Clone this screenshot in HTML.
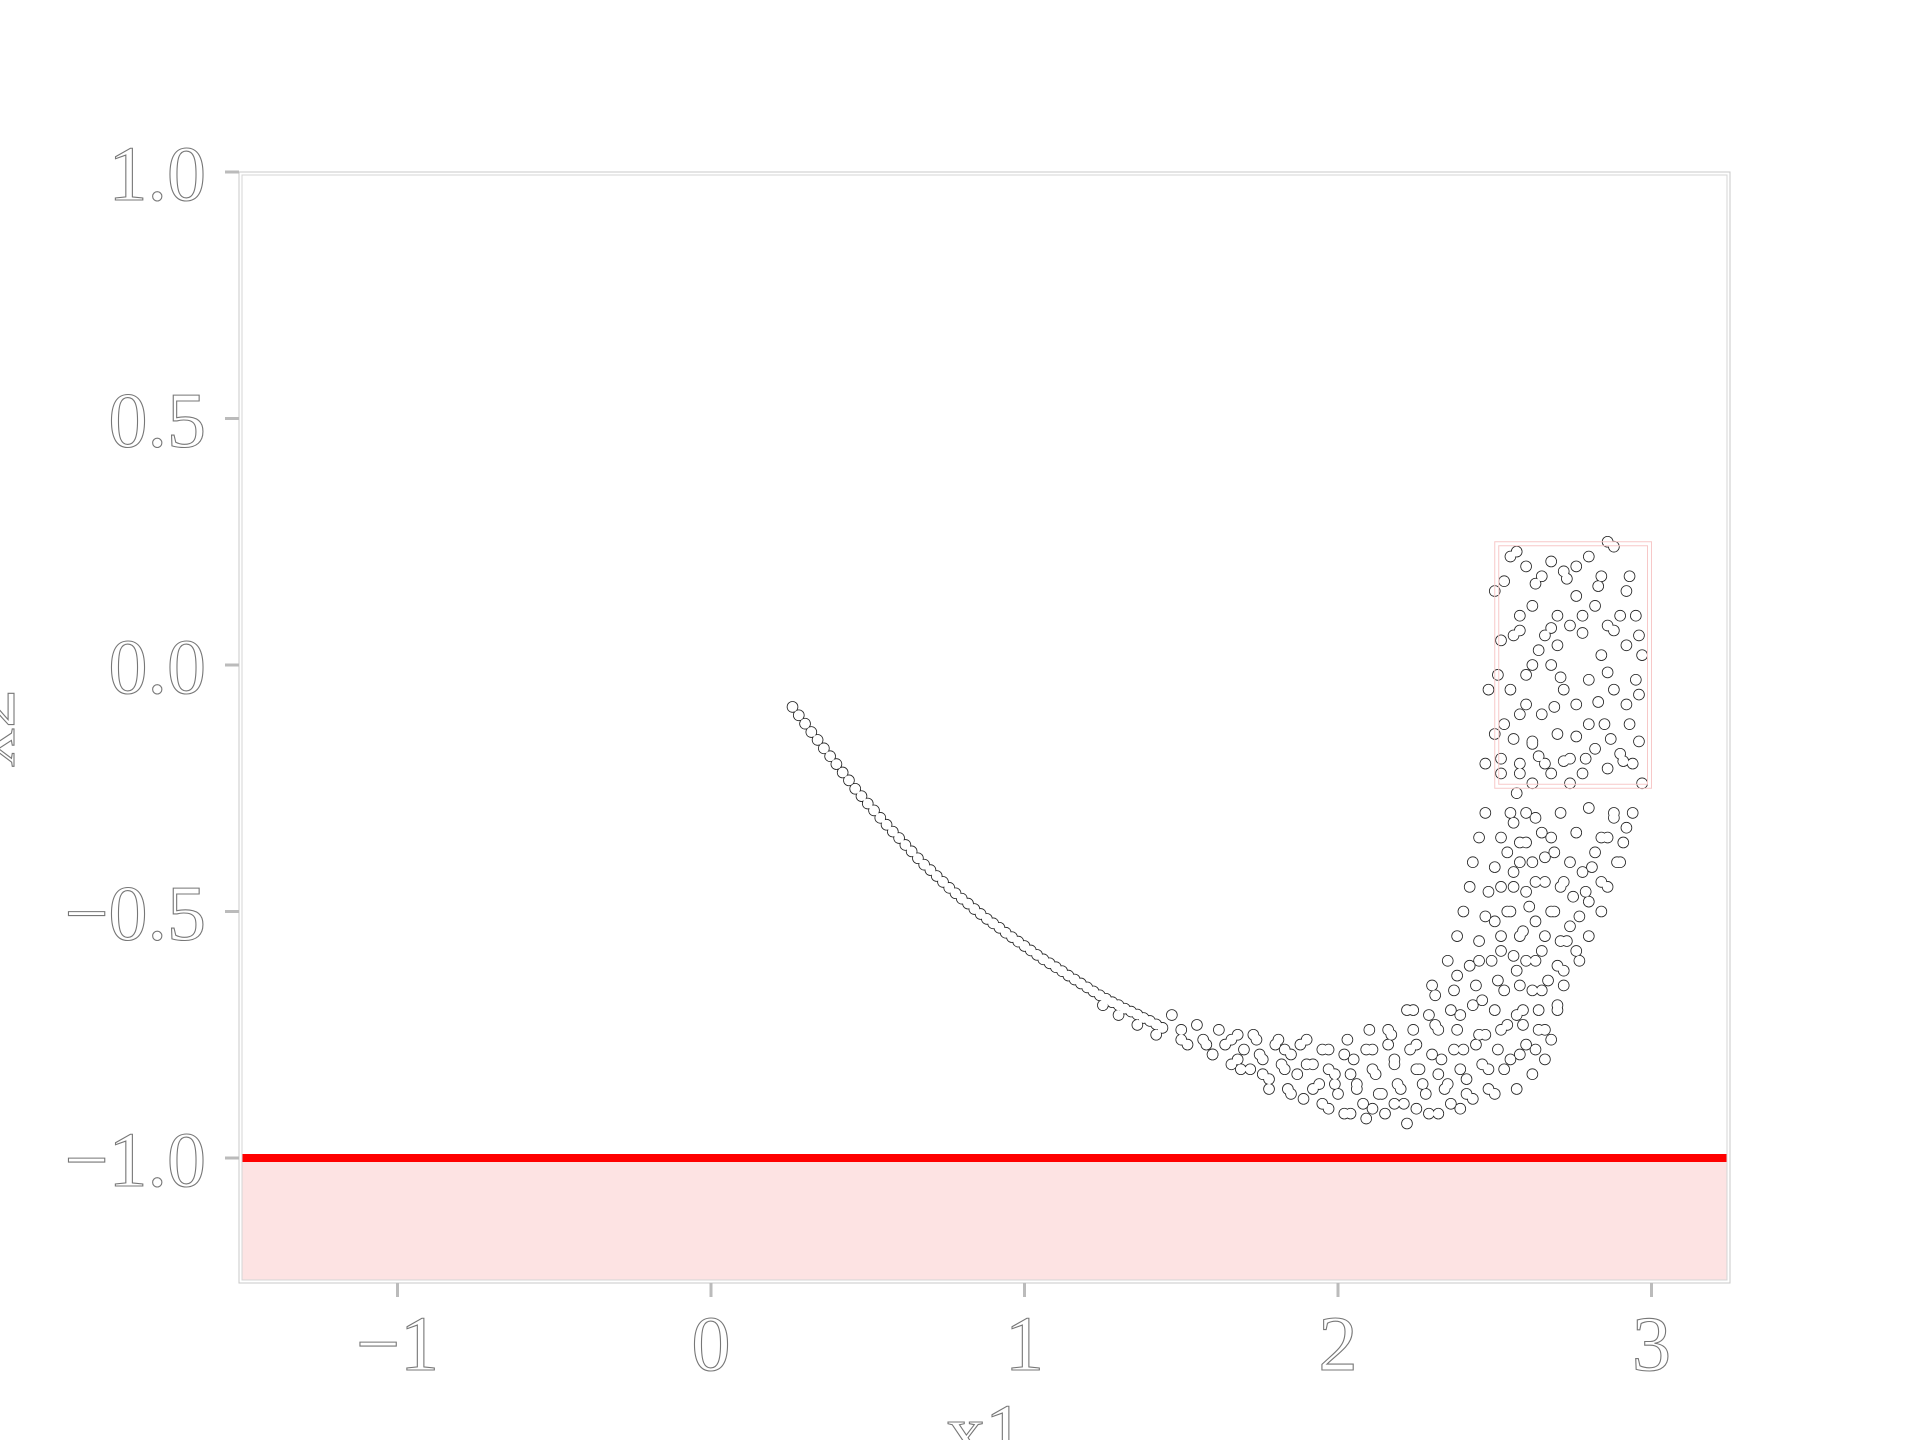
<!DOCTYPE html>
<html><head><meta charset="utf-8"><style>
html,body{margin:0;padding:0;background:#fff;}
svg{display:block;}
text{font-family:"Liberation Serif",serif;fill:#fff;stroke:#777;stroke-width:1.1;}
</style></head><body>
<svg id="chart" width="1920" height="1440" viewBox="0 0 1920 1440" xmlns="http://www.w3.org/2000/svg">
<g id="bg"></g><g id="pts-stroke"></g><g id="pts-fill"></g><g id="fg"></g>
</svg>
<script>
const xTicks=[-1,0,1,2,3];
const xTickLabels=["\u22121","0","1","2","3"];
const yTicks=[1.0,0.5,0.0,-0.5,-1.0];
const yTickLabels=["1.0","0.5","0.0","\u22120.5","\u22121.0"];
const thresholdY=-1.0;
const boxX=[2.5,3.0];
const boxY=[-0.25,0.25];
const thinSegment=[[0.26,-0.085],[0.28,-0.102],[0.30,-0.119],[0.32,-0.136],[0.34,-0.152],[0.36,-0.169],[0.38,-0.185],[0.40,-0.201],[0.42,-0.218],[0.44,-0.234],[0.46,-0.251],[0.48,-0.266],[0.50,-0.281],[0.52,-0.295],[0.54,-0.310],[0.56,-0.324],[0.58,-0.338],[0.60,-0.351],[0.62,-0.365],[0.64,-0.378],[0.66,-0.392],[0.68,-0.405],[0.70,-0.416],[0.72,-0.428],[0.74,-0.440],[0.76,-0.452],[0.78,-0.463],[0.80,-0.474],[0.82,-0.484],[0.84,-0.495],[0.86,-0.505],[0.88,-0.515],[0.90,-0.524],[0.92,-0.533],[0.94,-0.543],[0.96,-0.552],[0.98,-0.561],[1.00,-0.570],[1.02,-0.579],[1.04,-0.588],[1.06,-0.597],[1.08,-0.605],[1.10,-0.613],[1.12,-0.621],[1.14,-0.630],[1.16,-0.638],[1.18,-0.646],[1.20,-0.654],[1.22,-0.662],[1.24,-0.670],[1.26,-0.677],[1.28,-0.684],[1.30,-0.690],[1.32,-0.697],[1.34,-0.703],[1.36,-0.709],[1.38,-0.716],[1.40,-0.722],[1.42,-0.729],[1.44,-0.736],[1.25,-0.69],[1.30,-0.71],[1.36,-0.73],[1.42,-0.75]];
const lowerBand=[[1.47,-0.71],[1.50,-0.74],[1.52,-0.77],[1.55,-0.73],[1.57,-0.76],[1.60,-0.79],[1.62,-0.74],[1.64,-0.77],[1.66,-0.81],[1.68,-0.75],[1.70,-0.78],[1.72,-0.82],[1.74,-0.76],[1.76,-0.80],[1.78,-0.84],[1.80,-0.77],[1.82,-0.81],[1.84,-0.86],[1.85,-0.79],[1.87,-0.83],[1.89,-0.88],[1.90,-0.76],[1.92,-0.81],[1.94,-0.85],[1.95,-0.89],[1.97,-0.78],[1.99,-0.83],[2.00,-0.87],[2.02,-0.91],[2.03,-0.76],[2.05,-0.80],[2.06,-0.85],[2.08,-0.89],[2.09,-0.92],[2.11,-0.78],[2.12,-0.83],[2.14,-0.87],[2.15,-0.91],[2.16,-0.74],[2.18,-0.80],[2.19,-0.85],[2.21,-0.89],[2.22,-0.93],[2.24,-0.70],[2.25,-0.77],[2.26,-0.82],[2.28,-0.87],[2.29,-0.91],[2.31,-0.67],[2.32,-0.74],[2.33,-0.80],[2.35,-0.85],[2.36,-0.89],[2.38,-0.63],[2.39,-0.71],[2.40,-0.78],[2.41,-0.84],[2.43,-0.88]];
const upperArc=[[2.45,-0.60],[2.46,-0.68],[2.47,-0.75],[2.48,-0.82],[2.50,-0.87],[2.50,-0.52],[2.52,-0.58],[2.53,-0.66],[2.54,-0.73],[2.55,-0.80],[2.57,-0.86],[2.52,-0.45],[2.55,-0.50],[2.57,-0.62],[2.59,-0.70],[2.60,-0.77],[2.62,-0.83],[2.54,-0.38],[2.56,-0.42],[2.58,-0.55],[2.60,-0.60],[2.62,-0.66],[2.64,-0.74],[2.66,-0.80],[2.68,-0.76],[2.56,-0.32],[2.58,-0.36],[2.60,-0.46],[2.63,-0.52],[2.65,-0.58],[2.67,-0.64],[2.70,-0.70],[2.72,-0.62],[2.57,-0.26],[2.60,-0.30],[2.62,-0.40],[2.66,-0.44],[2.68,-0.50],[2.71,-0.56],[2.74,-0.53],[2.76,-0.58],[2.58,-0.20],[2.62,-0.24],[2.65,-0.34],[2.69,-0.38],[2.72,-0.44],[2.75,-0.47],[2.78,-0.42],[2.80,-0.48],[2.82,-0.38],[2.84,-0.44],[2.86,-0.35],[2.88,-0.30],[2.90,-0.40],[2.92,-0.33]];
const boxRegion=[[2.47,-0.20],[2.50,-0.14],[2.48,-0.05],[2.52,0.05],[2.50,0.15],[2.55,0.22],[2.57,0.23],[2.60,0.20],[2.58,0.10],[2.62,0.12],[2.65,0.18],[2.68,0.21],[2.72,0.19],[2.76,0.20],[2.80,0.22],[2.86,0.25],[2.88,0.24],[2.92,0.15],[2.95,0.10],[2.97,0.02],[2.96,-0.06],[2.93,-0.12],[2.90,-0.18],[2.86,-0.21],[2.82,-0.17],[2.78,-0.22],[2.74,-0.19],[2.70,-0.14],[2.66,-0.20],[2.62,-0.16],[2.58,-0.10],[2.55,-0.05],[2.60,-0.02],[2.64,0.03],[2.68,0.00],[2.72,-0.05],[2.76,-0.08],[2.80,-0.03],[2.84,0.02],[2.88,-0.05],[2.92,0.04],[2.90,0.10],[2.86,0.08],[2.82,0.12],[2.78,0.10],[2.74,0.08],[2.70,0.10],[2.66,0.06],[2.62,0.00],[2.56,0.06],[2.53,-0.12],[2.65,-0.10],[2.80,-0.12],[2.85,-0.12],[2.94,-0.20],[2.97,-0.24],[2.70,0.04],[2.76,0.14],[2.84,0.18],[2.58,-0.22],[2.52,-0.22],[2.68,-0.22],[2.74,-0.24],
[2.53,0.17],[2.63,0.165],[2.73,0.175],[2.83,0.16],[2.93,0.18],[2.58,0.07],[2.68,0.075],[2.78,0.065],[2.88,0.07],[2.96,0.06],[2.51,-0.02],[2.71,-0.025],[2.86,-0.015],[2.95,-0.03],[2.60,-0.08],[2.69,-0.085],[2.83,-0.075],[2.92,-0.08],[2.56,-0.15],[2.62,-0.155],[2.76,-0.145],[2.87,-0.15],[2.96,-0.155],[2.52,-0.19],[2.64,-0.185],[2.72,-0.195],[2.79,-0.19],[2.91,-0.195]];
const denseBand=[[2.47,-0.30],[2.55,-0.30],[2.63,-0.31],[2.71,-0.30],[2.80,-0.29],[2.88,-0.31],[2.94,-0.30],
[2.45,-0.35],[2.52,-0.35],[2.60,-0.36],[2.68,-0.35],[2.76,-0.34],[2.84,-0.35],[2.91,-0.36],
[2.43,-0.40],[2.50,-0.41],[2.58,-0.40],[2.66,-0.39],[2.74,-0.40],[2.81,-0.41],[2.89,-0.40],
[2.42,-0.45],[2.48,-0.46],[2.56,-0.45],[2.63,-0.44],[2.71,-0.45],[2.79,-0.46],[2.86,-0.45],
[2.40,-0.50],[2.47,-0.51],[2.54,-0.50],[2.61,-0.49],[2.69,-0.50],[2.77,-0.51],[2.84,-0.50],
[2.38,-0.55],[2.45,-0.56],[2.52,-0.55],[2.59,-0.54],[2.66,-0.55],[2.73,-0.56],[2.80,-0.55],
[2.35,-0.60],[2.42,-0.61],[2.49,-0.60],[2.56,-0.59],[2.63,-0.60],[2.70,-0.61],[2.77,-0.60],
[2.30,-0.65],[2.37,-0.66],[2.44,-0.65],[2.51,-0.64],[2.58,-0.65],[2.65,-0.66],[2.72,-0.65],
[2.22,-0.70],[2.29,-0.71],[2.36,-0.70],[2.43,-0.69],[2.50,-0.70],[2.57,-0.71],[2.64,-0.70],[2.70,-0.69],
[2.10,-0.74],[2.17,-0.75],[2.24,-0.74],[2.31,-0.73],[2.38,-0.74],[2.45,-0.75],[2.52,-0.74],[2.59,-0.73],[2.66,-0.74],
[1.95,-0.78],[2.02,-0.79],[2.09,-0.78],[2.16,-0.77],[2.23,-0.78],[2.30,-0.79],[2.37,-0.78],[2.44,-0.77],[2.51,-0.78],[2.58,-0.79],[2.63,-0.78],
[1.69,-0.82],[1.76,-0.83],[1.83,-0.82],[1.90,-0.81],[1.97,-0.82],[2.04,-0.83],[2.11,-0.82],[2.18,-0.81],[2.25,-0.82],[2.32,-0.83],[2.39,-0.82],[2.46,-0.81],[2.53,-0.82],
[1.78,-0.86],[1.85,-0.87],[1.92,-0.86],[1.99,-0.85],[2.06,-0.86],[2.13,-0.87],[2.20,-0.86],[2.27,-0.85],[2.34,-0.86],[2.41,-0.87],[2.48,-0.86],
[1.97,-0.90],[2.04,-0.91],[2.11,-0.90],[2.18,-0.89],[2.25,-0.90],[2.32,-0.91],[2.39,-0.90],
[1.50,-0.76],[1.58,-0.77],[1.66,-0.76],[1.73,-0.75],[1.81,-0.76],[1.88,-0.77],
[1.60,-0.79],[1.68,-0.80],[1.75,-0.79],[1.83,-0.78]];

const NS="http://www.w3.org/2000/svg";
const X0=711, XU=313.5, Y0=665, YU=493;
const L=239, R=1730, T=172, B=1283;
const sx=v=>X0+v*XU, sy=v=>Y0-v*YU;
function mk(tag,attrs,parent){const e=document.createElementNS(NS,tag);for(const k in attrs)e.setAttribute(k,attrs[k]);parent.appendChild(e);return e;}
const bg=document.getElementById('bg'), fg=document.getElementById('fg');
const ps=document.getElementById('pts-stroke'), pf=document.getElementById('pts-fill');

let e=mk('rect',{x:L+3,y:sy(thresholdY),width:R-L-6,height:B-3-sy(thresholdY),fill:'#fde3e3',stroke:'#d9a8a8','stroke-width':1},bg);



[thinSegment,lowerBand,upperArc,boxRegion,denseBand].forEach(arr=>arr.forEach(p=>{
  let c=mk('circle',{cx:sx(p[0]),cy:sy(p[1]),r:5.8,fill:'#222'},ps);
  
  
  mk('circle',{cx:sx(p[0]),cy:sy(p[1]),r:5.0,fill:'#fff'},pf);
}));

e=mk('line',{x1:L+3,x2:R-3,y1:sy(thresholdY),y2:sy(thresholdY),stroke:'#ff0000','stroke-width':8},fg);



e=mk('rect',{x:sx(boxX[0]),y:sy(boxY[1]),width:sx(boxX[1])-sx(boxX[0]),height:sy(boxY[0])-sy(boxY[1]),fill:'none',stroke:'#f7c8c8','stroke-width':1},fg);


mk('rect',{x:sx(boxX[0])+4,y:sy(boxY[1])+4,width:sx(boxX[1])-sx(boxX[0])-8,height:sy(boxY[0])-sy(boxY[1])-8,fill:'none',stroke:'#f7c8c8','stroke-width':1},fg);

e=mk('rect',{x:L,y:T,width:R-L,height:B-T,fill:'none',stroke:'#c8c8c8','stroke-width':1},fg);


mk('rect',{x:L+3,y:T+3,width:R-L-6,height:B-T-6,fill:'none',stroke:'#d4d4d4','stroke-width':1},fg);

xTicks.forEach((v,i)=>{
  let t=mk('line',{x1:sx(v),x2:sx(v),y1:B,y2:B+14,stroke:'#bbb','stroke-width':3},fg);
  
  
  let tx=mk('text',{x:sx(v),y:1370,'text-anchor':'middle','font-size':78},fg);
  tx.textContent=xTickLabels[i];
  
  
});
yTicks.forEach((v,i)=>{
  let t=mk('line',{x1:L-14,x2:L,y1:sy(v),y2:sy(v),stroke:'#bbb','stroke-width':3},fg);
  
  
  let tx=mk('text',{x:206,y:sy(v)+28,'text-anchor':'end','font-size':78},fg);
  tx.textContent=yTickLabels[i];
  
  
});
let xl=mk('text',{x:985,y:1458,'text-anchor':'middle','font-size':78},fg);
xl.textContent='x1';


let yl=mk('text',{x:0,y:0,'text-anchor':'middle','font-size':78,transform:'translate(14,728) rotate(-90)'},fg);
yl.textContent='x2';


</script>
</body></html>
